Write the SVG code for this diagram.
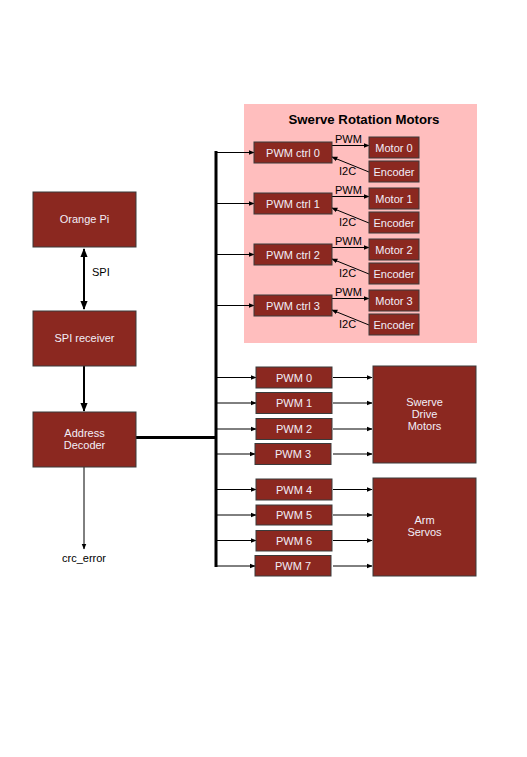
<svg xmlns="http://www.w3.org/2000/svg" width="527" height="757" viewBox="0 0 527 757">
<defs>
<marker id="ah" viewBox="0 0 10 10" refX="9" refY="5" markerWidth="6" markerHeight="6" orient="auto-start-reverse" markerUnits="userSpaceOnUse"><path d="M0,1 L10,5 L0,9 Z" fill="#000"/></marker>
<marker id="ahb" viewBox="0 0 10 10" refX="9" refY="5" markerWidth="9" markerHeight="9" orient="auto-start-reverse" markerUnits="userSpaceOnUse"><path d="M0,1 L10,5 L0,9 Z" fill="#000"/></marker>
<style>
.n{fill:#8b2820;stroke:#3a3a3a;stroke-width:1}
.t{font-family:"Liberation Sans",Arial,sans-serif;font-size:11px;fill:#f2eef8;text-anchor:middle}
.k{font-family:"Liberation Sans",Arial,sans-serif;font-size:11px;fill:#000}
.c{stroke:#000;stroke-width:1;fill:none}
</style>
</defs>
<rect x="244" y="104" width="233" height="239" fill="#ffbebe"/>
<text x="364" y="124" font-family="Liberation Sans,Arial,sans-serif" font-size="13.2" font-weight="bold" text-anchor="middle">Swerve Rotation Motors</text>
<g id="connectors">
<line x1="84" y1="249" x2="84" y2="309" stroke="#000" stroke-width="2" marker-start="url(#ahb)" marker-end="url(#ahb)"/>
<line x1="84" y1="366" x2="84" y2="411" stroke="#000" stroke-width="2" marker-end="url(#ahb)"/>
<line x1="84" y1="467" x2="84" y2="549" class="c" marker-end="url(#ah)"/>
<line x1="136" y1="437.5" x2="216" y2="437.5" stroke="#000" stroke-width="3"/>
<line x1="216" y1="151" x2="216" y2="567" stroke="#000" stroke-width="3"/>
<g class="c" marker-end="url(#ah)">
<line x1="216" y1="152.5" x2="254" y2="152.5"/>
<line x1="216" y1="203.5" x2="254" y2="203.5"/>
<line x1="216" y1="254.5" x2="254" y2="254.5"/>
<line x1="216" y1="305.5" x2="254" y2="305.5"/>
<line x1="216" y1="377.5" x2="256" y2="377.5"/>
<line x1="216" y1="403" x2="256" y2="403"/>
<line x1="216" y1="429" x2="256" y2="429"/>
<line x1="216" y1="454" x2="255" y2="454"/>
<line x1="216" y1="489.5" x2="256" y2="489.5"/>
<line x1="216" y1="515" x2="256" y2="515"/>
<line x1="216" y1="540.5" x2="256" y2="540.5"/>
<line x1="216" y1="566" x2="255" y2="566"/>
<line x1="333" y1="377.5" x2="372" y2="377.5"/>
<line x1="333" y1="403" x2="372" y2="403"/>
<line x1="333" y1="429" x2="372" y2="429"/>
<line x1="333" y1="454" x2="372" y2="454"/>
<line x1="333" y1="489.5" x2="372" y2="489.5"/>
<line x1="333" y1="515" x2="372" y2="515"/>
<line x1="333" y1="540.5" x2="372" y2="540.5"/>
<line x1="333" y1="566" x2="372" y2="566"/>
<line x1="332" y1="145.5" x2="369" y2="145.5"/>
<line x1="332" y1="196.5" x2="369" y2="196.5"/>
<line x1="332" y1="247.5" x2="369" y2="247.5"/>
<line x1="332" y1="298.5" x2="369" y2="298.5"/>
<line x1="369" y1="172" x2="332" y2="157"/>
<line x1="369" y1="223" x2="332" y2="208"/>
<line x1="369" y1="274" x2="332" y2="259"/>
<line x1="369" y1="325" x2="332" y2="310"/>
</g>
<text class="k" x="92" y="276">SPI</text>
<text class="k" x="84" y="562" text-anchor="middle">crc_error</text>
<text class="k" x="335" y="143">PWM</text>
<text class="k" x="335" y="194">PWM</text>
<text class="k" x="335" y="245">PWM</text>
<text class="k" x="335" y="296">PWM</text>
<text class="k" x="339" y="175">I2C</text>
<text class="k" x="339" y="226">I2C</text>
<text class="k" x="339" y="277">I2C</text>
<text class="k" x="339" y="328">I2C</text>
</g>
<g id="orange-pi"><rect class="n" x="33" y="192" width="103" height="55"/><text class="t" x="84.5" y="223">Orange Pi</text></g>
<g id="spi-receiver"><rect class="n" x="33" y="311" width="103" height="55"/><text class="t" x="84.5" y="342">SPI receiver</text></g>
<g id="address-decoder"><rect class="n" x="33" y="412" width="103" height="55"/><text class="t" x="84.5" y="437">Address</text><text class="t" x="84.5" y="449">Decoder</text></g>
<g id="pwm-ctrl-0"><rect class="n" x="254" y="142" width="78" height="21"/><text class="t" x="293" y="156.5">PWM ctrl 0</text></g>
<g id="pwm-ctrl-1"><rect class="n" x="254" y="193" width="78" height="21"/><text class="t" x="293" y="207.5">PWM ctrl 1</text></g>
<g id="pwm-ctrl-2"><rect class="n" x="254" y="244" width="78" height="21"/><text class="t" x="293" y="258.5">PWM ctrl 2</text></g>
<g id="pwm-ctrl-3"><rect class="n" x="254" y="295" width="78" height="21"/><text class="t" x="293" y="309.5">PWM ctrl 3</text></g>
<g id="motor-0"><rect class="n" x="369" y="137" width="50" height="21"/><text class="t" x="394" y="151.5">Motor 0</text></g>
<g id="motor-1"><rect class="n" x="369" y="188" width="50" height="21"/><text class="t" x="394" y="202.5">Motor 1</text></g>
<g id="motor-2"><rect class="n" x="369" y="239" width="50" height="21"/><text class="t" x="394" y="253.5">Motor 2</text></g>
<g id="motor-3"><rect class="n" x="369" y="290" width="50" height="21"/><text class="t" x="394" y="304.5">Motor 3</text></g>
<g id="encoder-0"><rect class="n" x="369" y="161" width="50" height="21"/><text class="t" x="394" y="175.5">Encoder</text></g>
<g id="encoder-1"><rect class="n" x="369" y="212" width="50" height="21"/><text class="t" x="394" y="226.5">Encoder</text></g>
<g id="encoder-2"><rect class="n" x="369" y="263" width="50" height="21"/><text class="t" x="394" y="277.5">Encoder</text></g>
<g id="encoder-3"><rect class="n" x="369" y="314" width="50" height="21"/><text class="t" x="394" y="328.5">Encoder</text></g>
<g id="pwm-0"><rect class="n" x="256" y="367" width="76" height="21"/><text class="t" x="294" y="381.5">PWM 0</text></g>
<g id="pwm-1"><rect class="n" x="256" y="392.5" width="76" height="21"/><text class="t" x="294" y="407">PWM 1</text></g>
<g id="pwm-2"><rect class="n" x="256" y="418.5" width="76" height="21"/><text class="t" x="294" y="433">PWM 2</text></g>
<g id="pwm-3"><rect class="n" x="255" y="443.5" width="76" height="21"/><text class="t" x="293" y="458">PWM 3</text></g>
<g id="pwm-4"><rect class="n" x="256" y="479" width="76" height="21"/><text class="t" x="294" y="493.5">PWM 4</text></g>
<g id="pwm-5"><rect class="n" x="256" y="505" width="76" height="20"/><text class="t" x="294" y="519">PWM 5</text></g>
<g id="pwm-6"><rect class="n" x="256" y="530.5" width="76" height="20.5"/><text class="t" x="294" y="545">PWM 6</text></g>
<g id="pwm-7"><rect class="n" x="255" y="555.5" width="76" height="20.5"/><text class="t" x="293" y="570">PWM 7</text></g>
<g id="swerve-drive-motors"><rect class="n" x="373" y="366" width="103" height="97"/><text class="t" x="424.5" y="406">Swerve</text><text class="t" x="424.5" y="418">Drive</text><text class="t" x="424.5" y="430">Motors</text></g>
<g id="arm-servos"><rect class="n" x="373" y="478" width="103" height="98"/><text class="t" x="424.5" y="524">Arm</text><text class="t" x="424.5" y="536">Servos</text></g>
</svg>
